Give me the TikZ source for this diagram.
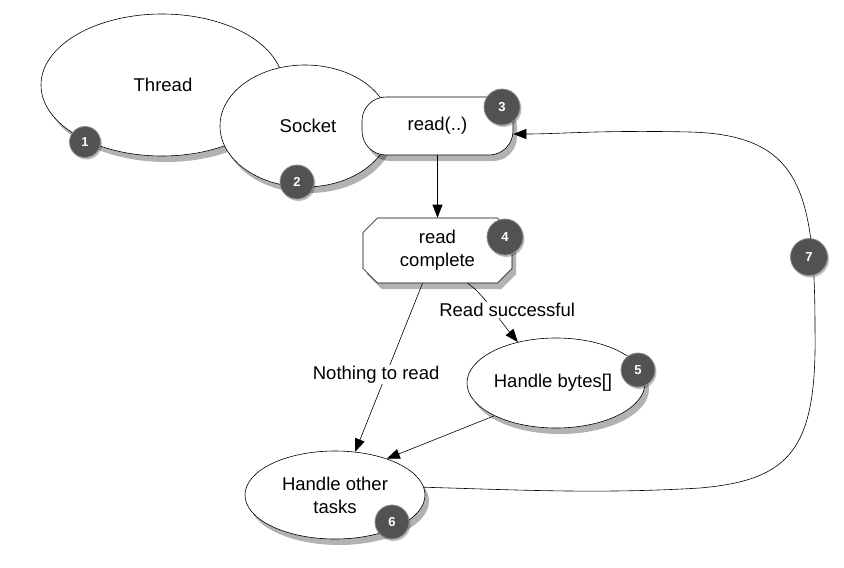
\documentclass[tikz,border=0pt]{standalone}
\usepackage{fontspec}
\setmainfont{Liberation Sans}
\usetikzlibrary{shapes.geometric,shapes.misc,shadows,arrows.meta}
\begin{document}
\begin{tikzpicture}[x=1pt,y=-1pt,
  every node/.style={font=\fontsize{18.5}{23}\selectfont},
  shad/.style={drop shadow={shadow xshift=4pt,shadow yshift=-6pt,opacity=0.3,fill=black}},
  ell/.style={ellipse,draw=black,fill=white,line width=0.6pt,shad,inner sep=0pt},
  box/.style={draw=black,fill=white,line width=0.6pt,shad,inner sep=0pt},
  badge/.style={circle,fill=black!68,draw=black!45,line width=0.8pt,text=white,
    font=\fontsize{13}{13}\selectfont\bfseries,minimum size=#1,inner sep=0pt,
    drop shadow={shadow xshift=1.5pt,shadow yshift=-2pt,opacity=0.25,fill=black}},
  badge/.default=34pt,
  arr/.style={draw=black,line width=0.6pt,-{Triangle[length=13pt,width=10pt]}},
  lbl/.style={fill=white,inner sep=1pt}
]
\useasboundingbox (0,0) rectangle (844,568);

\node[ell,minimum width=242pt,minimum height=142pt] (thread) at (162,85) {};
\node (threadtxt) at (163,85) {Thread};
\node[ell,minimum width=170pt,minimum height=122pt] (socket) at (305,126) {};
\node (sockettxt) at (308,126) {Socket};
\node[box,rectangle,rounded corners=24pt,minimum width=151pt,minimum height=58pt] (read) at (437.5,126) {read(..)};

\node[box,chamfered rectangle,chamfered rectangle xsep=11pt,minimum width=149pt,minimum height=65pt,align=center] (rc) at (437.5,250.5) {read\\complete};

\node[ell,minimum width=178pt,minimum height=90pt] (hb) at (556,383) {};
\node (hbtxt) at (553,383) {Handle bytes[]};
\node[ell,minimum width=180pt,minimum height=88pt,align=center] (ho) at (335,495) {Handle other\\tasks};

% connectors
\draw[arr] (read.south) -- (rc.north);
\draw[arr] ([xshift=-15pt]rc.south) -- node[lbl,pos=0.54,xshift=-10pt] (l1) {Nothing to read} (ho.65);
\draw[arr] ([xshift=30pt]rc.south) .. controls (482,292) and (498,318) .. node[lbl,pos=0.45,xshift=19pt,yshift=-6pt] (l2) {Read successful} (hb.133);
\draw[arr] (hb.208) -- (ho.35);
\draw[arr] (ho.5) .. controls (520,490) and (600,494) .. (700,488)
  .. controls (790,480) and (817,450) .. (815,330)
  .. controls (815,190) and (800,135) .. (690,132)
  .. controls (600,130) and (560,134) .. ([yshift=-8pt]read.east);

% badges
\node[badge=31pt] (b1) at (85,142) {1};
\node[badge] (b2) at (297,182) {2};
\node[badge=36pt] (b3) at (502,107) {3};
\node[badge=36pt] (b4) at (505,237) {4};
\node[badge] (b5) at (638,370) {5};
\node[badge] (b6) at (392,522) {6};
\node[badge=37pt] (b7) at (809,257) {7};
\end{tikzpicture}
\end{document}
